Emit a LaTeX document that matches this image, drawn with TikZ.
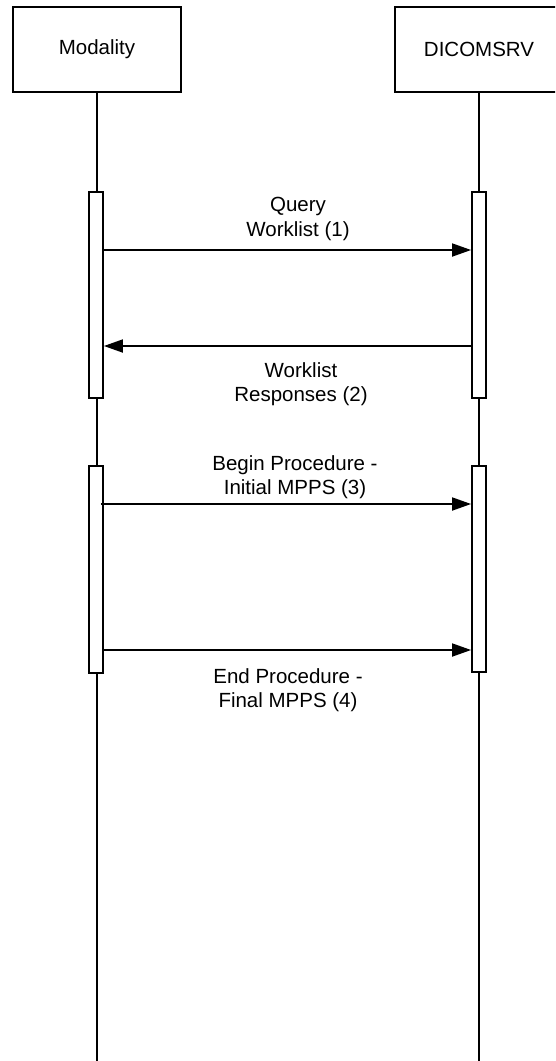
\documentclass[tikz,border=0pt]{standalone}
\usepackage{fontspec}
\setmainfont{Liberation Sans}
\usetikzlibrary{arrows.meta,positioning}

\begin{document}
\begin{tikzpicture}[
    x=1pt, y=-1pt,
    every node/.style={font=\fontsize{20.5}{24.5}\selectfont},
    actor/.style={rectangle, draw, line width=1.8pt, minimum width=168pt, minimum height=85pt, fill=white},
    bar/.style={rectangle, draw, line width=1.8pt, minimum width=14pt, inner sep=0pt, fill=white},
    msg/.style={-{Triangle[length=19pt,width=13pt]}, line width=1.8pt},
    msgtext/.style={align=center, inner sep=0pt}
]
    \clip (0,0) rectangle (555,1061);

    % lifelines
    \coordinate (bottom) at (0,1070);
    \node[actor] (modality) at (97,49.5) {Modality};
    \node[actor] (dicomsrv) at (479,49.5) {DICOMSRV};
    \draw[line width=1.8pt] (modality) -- (modality |- bottom);
    \draw[line width=1.8pt] (dicomsrv) -- (dicomsrv |- bottom);

    % activation bars
    \node[bar, minimum height=206pt] (mod1) at (96,295) {};
    \node[bar, minimum height=206pt] (srv1) at (479,295) {};
    \node[bar, minimum height=207pt] (mod2) at (96,569.5) {};
    \node[bar, minimum height=206pt] (srv2) at (479,569) {};

    % messages
    \coordinate (m1) at (0,250);
    \coordinate (m2) at (0,346);
    \coordinate (m3) at (0,504);
    \coordinate (m4) at (0,650);
    \draw[msg] (mod1.east |- m1) -- (srv1.west |- m1);
    \draw[msg] (srv1.west |- m2) -- (mod1.east |- m2);
    \draw[msg] ([xshift=-3pt]mod2.east |- m3) -- (srv2.west |- m3);
    \draw[msg] (mod2.east |- m4) -- (srv2.west |- m4);

    \node[msgtext] (query) at (298,219) {Query\\Worklist (1)};
    \node[msgtext] (resp) at (301,384) {Worklist\\Responses (2)};
    \node[msgtext] (begin) at (295,477) {Begin Procedure -\\Initial MPPS (3)};
    \node[msgtext] (end) at (288,690) {End Procedure -\\Final MPPS (4)};
\end{tikzpicture}
\end{document}
